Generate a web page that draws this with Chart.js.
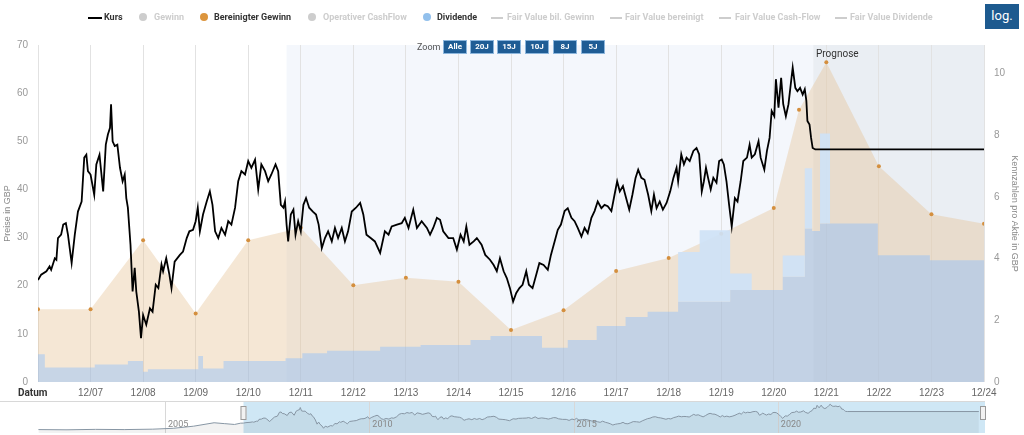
<!DOCTYPE html>
<html>
<head>
<meta charset="utf-8">
<script src="https://cdn.jsdelivr.net/npm/chart.js@4.4.1/dist/chart.umd.min.js"></script>
<style>
  body { margin: 0; background: #fff; font-family: Roboto, sans-serif; }
  #wrap { position: relative; width: 1024px; height: 435px; overflow: hidden; }
  canvas { position: absolute; left: 0; }
  #main { top: 0; }
  #nav { top: 400px; }
  .lg { position: absolute; top: 12px; font-size: 9px; font-weight: 700; line-height: 11px; white-space: nowrap; color: #333; }
  .lg.off { color: #cdcdcd; }
  .dot { position: absolute; top: 13px; width: 8px; height: 8px; border-radius: 50%; }
  .sym { position: absolute; top: 17px; height: 0; width: 12px; border-top: 2px solid #cdcdcd; }
  .zl { position: absolute; top: 42px; left: 417px; font-size: 9px; color: #555; }
  .zb { position: absolute; top: 40px; height: 12px; line-height: 12px; width: 22px; background: #1f5d95; color: #fff;
        font-size: 8px; font-weight: 700; text-align: center; border: 1px solid #8cb6dc; box-sizing: content-box; }
  #log { position: absolute; left: 985px; top: 4px; width: 34px; height: 25px; line-height: 24px; background: #1d5a8f;
         color: #fff; font-size: 13px; text-align: center; }
  #prog { position: absolute; left: 816px; top: 48px; font-size: 10px; color: #333; }
  #datum { position: absolute; left: 18px; top: 387px; font-size: 10px; font-weight: 700; color: #333; }
</style>
</head>
<body>
<div id="wrap">
  <canvas id="main" width="1024" height="400"></canvas>
  <canvas id="nav" width="1024" height="35"></canvas>

  <div class="sym" style="left:88px;width:14px;border-top-color:#000"></div><div class="lg" style="left:104px">Kurs</div>
  <div class="dot" style="left:139px;background:#cdcdcd"></div><div class="lg off" style="left:154px">Gewinn</div>
  <div class="dot" style="left:200px;background:#dc953d"></div><div class="lg" style="left:214px">Bereinigter Gewinn</div>
  <div class="dot" style="left:308px;background:#cdcdcd"></div><div class="lg off" style="left:323px">Operativer CashFlow</div>
  <div class="dot" style="left:423px;background:#92c0ec"></div><div class="lg" style="left:437px">Dividende</div>
  <div class="sym" style="left:491px;border-top-style:dashed"></div><div class="lg off" style="left:507px">Fair Value bil. Gewinn</div>
  <div class="sym" style="left:610px;border-top-style:dashed"></div><div class="lg off" style="left:625px">Fair Value bereinigt</div>
  <div class="sym" style="left:719px"></div><div class="lg off" style="left:735px">Fair Value Cash-Flow</div>
  <div class="sym" style="left:835px"></div><div class="lg off" style="left:850px">Fair Value Dividende</div>
  <div id="log">log.</div>

  <div class="zl">Zoom</div>
  <div class="zb" style="left:443px">Alle</div>
  <div class="zb" style="left:470px">20J</div>
  <div class="zb" style="left:497px">15J</div>
  <div class="zb" style="left:525px">10J</div>
  <div class="zb" style="left:553px">8J</div>
  <div class="zb" style="left:581px">5J</div>

  <div id="prog">Prognose</div>
  <div id="datum">Datum</div>
</div>

<script>
// x axis ticks (decimal years, 12/yy = December)
const tickYears = [2006.92, 2007.92, 2008.92, 2009.92, 2010.92, 2011.92, 2012.92, 2013.92, 2014.92, 2015.92,
  2016.92, 2017.92, 2018.92, 2019.92, 2020.92, 2021.92, 2022.92, 2023.92, 2024.92];
const tickLabels = ['', '12/07', '12/08', '12/09', '12/10', '12/11', '12/12', '12/13', '12/14', '12/15',
  '12/16', '12/17', '12/18', '12/19', '12/20', '12/21', '12/22', '12/23', '12/24'];

// shaded periods
const bandStart = 2011.65;
const prognoseStart = 2021.67;

// Kurs (GBP, left axis)
const kursYears = [
  2006.92, 2006.98, 2007.08, 2007.14, 2007.17, 2007.24, 2007.27, 2007.30, 2007.36, 2007.40, 2007.45, 2007.49,
  2007.56, 2007.62, 2007.68, 2007.75, 2007.80, 2007.84, 2007.87, 2007.92, 2007.99, 2008.03, 2008.09, 2008.16,
  2008.21, 2008.25, 2008.29, 2008.31, 2008.34, 2008.38, 2008.43, 2008.48, 2008.53, 2008.57, 2008.60, 2008.63,
  2008.68, 2008.72, 2008.76, 2008.79, 2008.84, 2008.88, 2008.92, 2008.98, 2009.05, 2009.10, 2009.16, 2009.21,
  2009.27, 2009.30, 2009.36, 2009.42, 2009.46, 2009.52, 2009.62, 2009.68, 2009.75, 2009.80, 2009.87, 2009.92,
  2009.96, 2010.00, 2010.06, 2010.13, 2010.19, 2010.24, 2010.29, 2010.35, 2010.41, 2010.48, 2010.54, 2010.60,
  2010.67, 2010.73, 2010.79, 2010.86, 2010.92, 2010.98, 2011.05, 2011.11, 2011.17, 2011.24, 2011.30, 2011.36,
  2011.44, 2011.49, 2011.54, 2011.59, 2011.62, 2011.65, 2011.68, 2011.73, 2011.78, 2011.82, 2011.87, 2011.92,
  2011.97, 2012.02, 2012.08, 2012.15, 2012.21, 2012.26, 2012.32, 2012.38, 2012.44, 2012.51, 2012.57, 2012.63,
  2012.70, 2012.76, 2012.82, 2012.89, 2012.97, 2013.05, 2013.11, 2013.17, 2013.25, 2013.33, 2013.43, 2013.52,
  2013.59, 2013.65, 2013.75, 2013.84, 2013.90, 2013.97, 2014.06, 2014.13, 2014.22, 2014.32, 2014.38, 2014.44,
  2014.51, 2014.57, 2014.63, 2014.73, 2014.82, 2014.89, 2014.96, 2015.02, 2015.07, 2015.13, 2015.21, 2015.27,
  2015.36, 2015.43, 2015.52, 2015.59, 2015.65, 2015.71, 2015.78, 2015.84, 2015.90, 2015.96, 2016.02, 2016.08,
  2016.14, 2016.21, 2016.26, 2016.33, 2016.40, 2016.46, 2016.54, 2016.62, 2016.68, 2016.75, 2016.81, 2016.87,
  2016.94, 2017.00, 2017.07, 2017.13, 2017.19, 2017.26, 2017.32, 2017.38, 2017.45, 2017.51, 2017.57, 2017.64,
  2017.70, 2017.76, 2017.83, 2017.89, 2017.94, 2017.99, 2018.05, 2018.11, 2018.17, 2018.23, 2018.29, 2018.34,
  2018.40, 2018.46, 2018.53, 2018.59, 2018.64, 2018.69, 2018.75, 2018.81, 2018.88, 2018.95, 2019.01, 2019.07,
  2019.10, 2019.16, 2019.21, 2019.26, 2019.32, 2019.39, 2019.45, 2019.50, 2019.55, 2019.59, 2019.63, 2019.67,
  2019.72, 2019.77, 2019.83, 2019.88, 2019.93, 2019.97, 2020.02, 2020.07, 2020.12, 2020.18, 2020.23, 2020.29,
  2020.34, 2020.41, 2020.46, 2020.50, 2020.56, 2020.63, 2020.67, 2020.74, 2020.79, 2020.84, 2020.88, 2020.93,
  2020.96, 2021.01, 2021.06, 2021.10, 2021.15, 2021.20, 2021.25, 2021.28, 2021.33, 2021.37, 2021.42, 2021.47,
  2021.51, 2021.54, 2021.56, 2021.60, 2021.63, 2021.66, 2021.71, 2024.92];
const kursValues = [
  21.2, 22.3, 23.0, 24.0, 23.3, 25.7, 25.4, 29.9, 30.6, 32.7, 33.0, 30.6,
  24.7, 30.6, 35.4, 37.5, 46.6, 47.2, 43.8, 43.1, 38.9, 45.2, 47.2, 39.6,
  49.3, 51.4, 52.8, 57.7, 50.0, 49.0, 49.3, 44.5, 41.7, 43.1, 38.2, 36.2,
  28.5, 18.8, 23.7, 18.8, 14.6, 9.1, 13.9, 11.9, 15.3, 14.6, 20.2, 19.5,
  24.4, 23.0, 25.7, 22.3, 19.5, 25.0, 26.4, 27.1, 29.9, 31.3, 31.6, 33.4,
  36.2, 31.3, 34.8, 37.5, 39.6, 36.8, 31.3, 29.9, 32.0, 30.6, 33.4, 32.7,
  36.2, 41.7, 43.8, 43.1, 45.9, 44.5, 46.2, 40.0, 45.2, 43.8, 41.7, 43.1,
  45.2, 43.8, 36.8, 36.2, 37.5, 32.7, 29.2, 34.8, 35.8, 30.6, 33.4, 31.3,
  36.8, 38.2, 36.2, 35.4, 34.8, 32.7, 27.8, 29.9, 31.3, 29.2, 32.0, 29.9,
  32.0, 29.2, 31.3, 35.4, 36.2, 37.2, 34.8, 30.6, 29.9, 29.2, 26.8, 31.3,
  30.6, 32.3, 32.7, 33.0, 34.1, 32.0, 35.8, 32.0, 33.4, 32.0, 30.6, 32.0,
  34.1, 33.7, 31.3, 29.9, 29.9, 27.5, 30.6, 29.2, 32.3, 28.5, 29.2, 29.9,
  28.5, 26.4, 25.4, 24.3, 23.0, 25.7, 23.0, 21.6, 19.5, 16.7, 18.5, 19.5,
  20.2, 23.0, 20.2, 19.5, 22.3, 24.7, 24.3, 23.3, 26.4, 29.2, 31.6, 32.7,
  35.5, 36.1, 34.1, 33.4, 32.0, 30.2, 32.0, 30.9, 34.1, 35.5, 37.5, 36.1,
  36.8, 36.5, 35.5, 38.9, 41.7, 39.6, 40.7, 38.2, 35.8, 38.9, 42.4, 44.1,
  42.4, 42.0, 38.9, 35.5, 38.9, 36.1, 37.5, 35.8, 37.2, 39.6, 42.4, 44.5,
  41.7, 47.3, 45.2, 46.6, 45.9, 48.0, 48.6, 47.3, 39.6, 41.7, 44.5, 42.4,
  40.0, 42.4, 41.4, 45.9, 46.2, 45.2, 41.7, 36.8, 32.3, 38.2, 37.5, 41.7,
  45.9, 46.6, 49.3, 46.6, 47.3, 50.0, 46.6, 44.1, 48.0, 50.7, 56.3, 55.2,
  62.9, 57.0, 63.2, 57.7, 55.2, 57.7, 62.5, 65.3, 61.1, 60.4, 61.1, 59.7,
  60.8, 58.4, 54.2, 53.5, 50.7, 48.6, 48.3, 48.3];

// Bereinigter Gewinn (GBP per share, right axis)
const gewinnYears = [2006.92, 2007.92, 2008.92, 2009.92, 2010.92, 2011.92, 2012.92, 2013.92, 2014.92, 2015.92,
  2016.92, 2017.92, 2018.92, 2019.92, 2020.92, 2021.40, 2021.92, 2022.92, 2023.92, 2024.92];
const gewinnValues = [2.36, 2.36, 4.60, 2.22, 4.60, 5.00, 3.14, 3.38, 3.25, 1.69,
  2.33, 3.60, 4.02, 4.81, 5.64, 8.83, 10.37, 7.00, 5.44, 5.13];

// Dividende (GBP per share, right axis, stepped): regular part and total incl. extra payments
const divYears = [2006.92, 2007.05, 2008.00, 2008.63, 2008.92, 2009.01, 2009.97, 2010.06, 2010.45, 2011.63,
  2011.95, 2012.42, 2013.43, 2014.20, 2015.15, 2015.53, 2016.51, 2017.00, 2017.55, 2018.10, 2018.52, 2019.10,
  2019.51, 2020.09, 2020.50, 2021.09, 2021.51, 2021.65, 2021.80, 2021.99, 2022.90, 2023.89, 2024.92];
const divBaseValues = [0.90, 0.47, 0.57, 0.68, 0.33, 0.41, 0.84, 0.44, 0.68, 0.77,
  0.93, 1.01, 1.14, 1.20, 1.36, 1.49, 1.11, 1.36, 1.82, 2.11, 2.28, 2.60,
  2.60, 2.98, 2.98, 3.41, 4.98, 4.90, 5.14, 5.14, 4.11, 3.95, 3.95];
const divTotalValues = [0.90, 0.47, 0.57, 0.68, 0.33, 0.41, 0.84, 0.44, 0.68, 0.77,
  0.93, 1.01, 1.14, 1.20, 1.36, 1.49, 1.11, 1.36, 1.82, 2.11, 2.28, 4.22,
  4.92, 3.52, 2.98, 4.10, 6.93, 4.90, 8.06, 5.14, 4.11, 3.95, 3.95];

// navigator: price history before the main window
const navPreYears = [2001.90, 2002.60, 2003.30, 2004.00, 2004.70, 2005.20, 2005.70, 2006.20, 2006.45, 2006.70, 2006.85];
const navPreValues = [6.0, 5.5, 6.5, 6.0, 7.0, 9.0, 14.0, 22.0, 20.0, 18.0, 21.0];
const navYearLabels = [2005, 2010, 2015, 2020];

const toPoints = (xs, ys) => xs.map((x, i) => ({ x: x, y: ys[i] }));

// Background bands behind the plot
const bandsPlugin = {
  id: 'bands',
  beforeDraw(chart) {
    const { ctx, chartArea: a, scales: { x } } = chart;
    const x1 = x.getPixelForValue(bandStart);
    const x2 = x.getPixelForValue(prognoseStart);
    ctx.save();
    ctx.fillStyle = '#f4f7fc';
    ctx.fillRect(x1, a.top, x2 - x1, a.bottom - a.top);
    ctx.fillStyle = '#eaeef3';
    ctx.fillRect(x2, a.top, a.right - x2, a.bottom - a.top);
    ctx.restore();
  }
};

new Chart(document.getElementById('main').getContext('2d'), {
  type: 'line',
  data: {
    datasets: [
      {
        label: 'Kurs',
        data: toPoints(kursYears, kursValues),
        yAxisID: 'y',
        borderColor: '#000',
        borderWidth: 1.8,
        pointRadius: 0,
        fill: false,
        order: 0
      },
      {
        label: 'Dividende',
        data: toPoints(divYears, divBaseValues),
        yAxisID: 'y2',
        stepped: true,
        fill: 'origin',
        backgroundColor: 'rgba(134, 187, 255, 0.41)',
        borderWidth: 0,
        pointRadius: 0,
        order: 2
      },
      {
        label: 'Dividende gesamt',
        data: toPoints(divYears, divTotalValues),
        yAxisID: 'y2',
        stepped: true,
        fill: 1,
        backgroundColor: 'rgba(206, 226, 246, 0.92)',
        borderWidth: 0,
        pointRadius: 0,
        order: 1
      },
      {
        label: 'Bereinigter Gewinn',
        data: toPoints(gewinnYears, gewinnValues),
        yAxisID: 'y2',
        fill: 'origin',
        backgroundColor: 'rgba(230, 192, 145, 0.38)',
        borderWidth: 0,
        pointRadius: 2,
        pointBackgroundColor: '#d48f3e',
        pointBorderWidth: 0,
        order: 3
      }
    ]
  },
  options: {
    responsive: false,
    animation: false,
    layout: { padding: { top: 45, left: 0, right: 0, bottom: 0 } },
    plugins: { legend: { display: false }, tooltip: { enabled: false } },
    scales: {
      x: {
        type: 'linear',
        min: tickYears[0],
        max: tickYears[tickYears.length - 1],
        afterBuildTicks: s => { s.ticks = tickYears.map(v => ({ value: v })); },
        afterFit: s => { s.height = 18; },
        grid: { color: '#e2e2e2', drawTicks: false },
        border: { display: false },
        ticks: {
          padding: 5, color: '#666', font: { size: 10 }, maxRotation: 0, autoSkip: false,
          callback: (v, i) => tickLabels[i]
        }
      },
      y: {
        position: 'left',
        min: 0,
        max: 70,
        afterFit: s => { s.width = 38; },
        grid: { display: false, drawTicks: false },
        border: { display: false },
        ticks: { stepSize: 10, padding: 10, color: '#999', font: { size: 10 } },
        title: { display: true, text: 'Preise in GBP', color: '#888', font: { size: 9 }, padding: { top: 2, bottom: 0 } }
      },
      y2: {
        position: 'right',
        min: 0,
        max: 10.93,
        afterFit: s => { s.width = 40; },
        grid: { display: false, drawTicks: false },
        border: { display: false },
        ticks: { stepSize: 2, includeBounds: false, padding: 10, color: '#999', font: { size: 10 } },
        title: { display: true, text: 'Kennzahlen pro Aktie in GBP', color: '#888', font: { size: 9 }, padding: { top: 4, bottom: 0 } }
      }
    }
  },
  plugins: [bandsPlugin]
});

// Navigator strip below the chart
const navPlugin = {
  id: 'navigator',
  beforeDatasetsDraw(chart) {
    const { ctx, chartArea: a, scales: { x } } = chart;
    const x1 = x.getPixelForValue(tickYears[0]);
    ctx.save();
    ctx.fillStyle = '#cfe7f5';
    ctx.fillRect(x1, a.top, a.right - x1, a.bottom - a.top);
    ctx.strokeStyle = '#d8d8d8';
    ctx.lineWidth = 1;
    navYearLabels.forEach(yr => {
      const px = Math.round(x.getPixelForValue(yr)) + 0.5;
      ctx.beginPath();
      ctx.moveTo(px, a.top);
      ctx.lineTo(px, a.bottom);
      ctx.stroke();
    });
    ctx.beginPath();
    ctx.moveTo(0, a.top + 0.5);
    ctx.lineTo(a.right, a.top + 0.5);
    ctx.stroke();
    ctx.restore();
  },
  afterDraw(chart) {
    const { ctx, chartArea: a, scales: { x } } = chart;
    ctx.save();
    ctx.fillStyle = '#888';
    ctx.font = '9px Roboto';
    ctx.textBaseline = 'middle';
    navYearLabels.forEach(yr => {
      ctx.fillText(String(yr), x.getPixelForValue(yr) + 3, a.top + 24);
    });
    const handle = px => {
      ctx.fillStyle = '#f2f2f2';
      ctx.strokeStyle = '#999';
      ctx.fillRect(px - 3, a.top + 5, 6, 14);
      ctx.strokeRect(px - 2.5, a.top + 5.5, 5, 13);
    };
    handle(x.getPixelForValue(tickYears[0]));
    handle(a.right - 2);
    ctx.restore();
  }
};

new Chart(document.getElementById('nav').getContext('2d'), {
  type: 'line',
  data: {
    datasets: [{
      data: toPoints(navPreYears, navPreValues).concat(toPoints(kursYears, kursValues)),
      borderColor: '#8796a4',
      borderWidth: 1,
      pointRadius: 0,
      fill: 'start',
      backgroundColor: 'rgba(0, 0, 0, 0.05)'
    }]
  },
  options: {
    responsive: false,
    animation: false,
    layout: { padding: { top: 1, left: 38, right: 39, bottom: 2 } },
    plugins: { legend: { display: false }, tooltip: { enabled: false } },
    scales: {
      x: { type: 'linear', min: 2001.89, max: 2025.07, display: false },
      y: { min: -2, max: 73, display: false }
    }
  },
  plugins: [navPlugin]
});
</script>
</body>
</html>
